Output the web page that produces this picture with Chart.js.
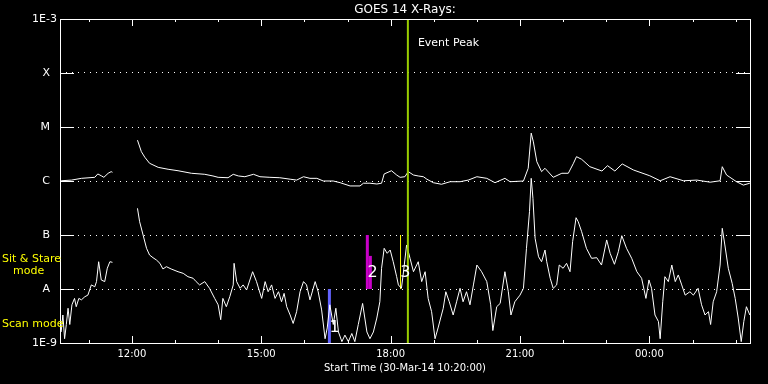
<!DOCTYPE html>
<html><head><meta charset="utf-8">
<style>html,body{margin:0;padding:0;background:#000;overflow:hidden}canvas{display:block}</style>
<script src="https://cdn.jsdelivr.net/npm/chart.js@4.4.1/dist/chart.umd.min.js"></script>
</head><body>
<canvas id="c" width="768" height="384"></canvas>
<script>
// ---- text ----
const chartTitle = 'GOES 14 X-Rays:';
const xAxisTitle = 'Start Time (30-Mar-14 10:20:00)';
const eventLabel = 'Event Peak';
const sitStareLabel = ['Sit & Stare', 'mode'];
const scanLabel = 'Scan mode';

// ---- axes (time in hours from midnight 30-Mar-14, >24 = next day) ----
const startHour = 10 + 20 / 60;
const endHour = startHour + 16;
const hourTicks = [11,12,13,14,15,16,17,18,19,20,21,22,23,24,25,26];
const levelValues = [1e-9, 1e-8, 1e-7, 1e-6, 1e-5, 1e-4, 1e-3];
const levelLabels = ['1E-9', 'A', 'B', 'C', 'M', 'X', '1E-3'];

// ---- 1-8 A channel (upper curve) ----
const longTimes = [
 10.36,10.60,10.83,11.14,11.21,11.29,11.35,11.45,11.52,11.55,
 11.80,12.13,12.22,12.30,12.41,12.61,12.84,13.07,13.38,13.69,
 13.88,14.00,14.23,14.35,14.47,14.62,14.82,14.97,15.20,15.43,
 15.67,15.82,15.98,16.13,16.29,16.44,16.67,16.83,17.06,17.29,
 17.37,17.52,17.68,17.79,17.85,18.02,18.14,18.22,18.33,18.41,
 18.53,18.64,18.76,18.84,18.99,19.18,19.38,19.61,19.80,20.00,
 20.23,20.42,20.65,20.77,21.08,21.19,21.26,21.31,21.39,21.50,
 21.58,21.77,21.97,22.12,22.24,22.31,22.43,22.62,22.90,23.03,
 23.20,23.37,23.63,24.01,24.25,24.48,24.79,25.10,25.41,25.64,
 25.69,25.79,26.02,26.18,26.33];
const longFlux = [
 1.01e-6,1.04e-6,1.12e-6,1.17e-6,1.35e-6,1.25e-6,1.17e-6,1.39e-6,1.49e-6,1.45e-6,
 null,5.7e-6,3.49e-6,2.75e-6,2.13e-6,1.79e-6,1.65e-6,1.55e-6,1.39e-6,1.33e-6,
 1.24e-6,1.17e-6,1.15e-6,1.33e-6,1.24e-6,1.20e-6,1.33e-6,1.20e-6,1.17e-6,1.15e-6,
 1.08e-6,1.04e-6,1.20e-6,1.12e-6,1.12e-6,1.0e-6,1.0e-6,9.3e-7,8.1e-7,8.1e-7,
 9.1e-7,9.1e-7,8.8e-7,9.1e-7,1.35e-6,1.55e-6,1.29e-6,1.17e-6,1.20e-6,1.49e-6,
 1.29e-6,1.24e-6,1.20e-6,1.08e-6,9.3e-7,8.7e-7,9.7e-7,9.7e-7,1.04e-6,1.20e-6,
 1.12e-6,9.3e-7,1.12e-6,9.7e-7,1.0e-6,1.72e-6,7.7e-6,5.3e-6,2.28e-6,1.49e-6,
 1.72e-6,1.17e-6,1.39e-6,1.39e-6,2.13e-6,2.82e-6,2.52e-6,1.84e-6,1.53e-6,1.92e-6,
 1.53e-6,2.07e-6,1.60e-6,1.25e-6,1.01e-6,1.20e-6,1.01e-6,1.04e-6,9.5e-7,1.01e-6,
 1.84e-6,1.29e-6,9.7e-7,8.4e-7,9.1e-7];

// ---- 0.5-4 A channel (lower curve) ----
const shortTimes = [
 10.36,10.40,10.44,10.48,10.52,10.56,10.61,10.67,10.71,10.77,
 10.83,10.91,10.98,11.06,11.14,11.18,11.23,11.29,11.37,11.43,
 11.49,11.55,11.80,12.13,12.18,12.26,12.34,12.41,12.49,12.57,
 12.65,12.72,12.80,12.91,13.07,13.19,13.30,13.42,13.49,13.57,
 13.69,13.80,13.92,14.00,14.06,14.11,14.19,14.27,14.35,14.37,
 14.43,14.51,14.58,14.66,14.80,14.89,15.01,15.09,15.16,15.24,
 15.32,15.40,15.47,15.53,15.59,15.67,15.74,15.82,15.90,15.98,
 16.05,16.13,16.25,16.32,16.40,16.48,16.53,16.59,16.67,16.73,
 16.79,16.87,16.94,17.02,17.10,17.17,17.25,17.35,17.45,17.52,
 17.60,17.68,17.75,17.79,17.85,17.92,17.99,18.06,18.14,18.18,
 18.25,18.29,18.37,18.45,18.53,18.64,18.72,18.80,18.87,18.95,
 19.03,19.10,19.16,19.22,19.28,19.36,19.45,19.53,19.61,19.68,
 19.76,19.84,19.92,20.00,20.11,20.23,20.32,20.37,20.46,20.54,
 20.65,20.73,20.79,20.88,21.00,21.08,21.15,21.22,21.26,21.30,
 21.35,21.43,21.50,21.58,21.62,21.70,21.77,21.85,21.91,22.00,
 22.08,22.16,22.22,22.30,22.35,22.43,22.54,22.66,22.78,22.89,
 23.01,23.09,23.19,23.28,23.36,23.47,23.59,23.71,23.82,23.92,
 23.99,24.05,24.13,24.21,24.25,24.31,24.36,24.44,24.52,24.60,
 24.67,24.75,24.83,24.94,25.02,25.13,25.21,25.29,25.37,25.42,
 25.48,25.56,25.64,25.69,25.75,25.83,25.92,25.99,26.06,26.13,
 26.19,26.25,26.33];
const shortFlux = [
 1.6e-9,3.3e-9,1.2e-9,2.2e-9,4.4e-9,2.2e-9,5.1e-9,6.7e-9,4.7e-9,6.7e-9,
 6.3e-9,7.2e-9,7.7e-9,1.19e-8,1.1e-8,1.37e-8,3.2e-8,1.47e-8,1.37e-8,2.42e-8,
 3.2e-8,3.12e-8,null,3.12e-7,1.76e-7,1.0e-7,5.67e-8,4.26e-8,3.8e-8,3.44e-8,
 2.99e-8,2.35e-8,2.59e-8,2.35e-8,2.09e-8,1.95e-8,1.69e-8,1.58e-8,1.37e-8,1.19e-8,
 1.37e-8,1.03e-8,6.7e-9,5.1e-9,2.7e-9,6.7e-9,4.7e-9,7.2e-9,1.19e-8,2.99e-8,
 1.37e-8,1.03e-8,1.19e-8,9.6e-9,2.09e-8,1.37e-8,6.7e-9,1.37e-8,8.9e-9,1.19e-8,
 6.7e-9,8.9e-9,5.8e-9,8.3e-9,4.7e-9,3.3e-9,2.3e-9,3.8e-9,8.9e-9,1.37e-8,
 1.19e-8,6.3e-9,1.37e-8,8.9e-9,4.1e-9,1.2e-9,1.9e-9,5.1e-9,2.2e-9,4.4e-9,
 1.6e-9,1.06e-9,1.4e-9,1.06e-9,1.5e-9,1.06e-9,2.2e-9,5.4e-9,1.6e-9,1.2e-9,
 1.6e-9,2.9e-9,5.8e-9,2.42e-8,5.67e-8,4.58e-8,5.27e-8,3.2e-8,1.69e-8,1.19e-8,
 1.03e-8,1.82e-8,6.53e-8,3.7e-8,2.09e-8,3.2e-8,1.37e-8,2.09e-8,6.7e-9,3.8e-9,
 1.2e-9,1.9e-9,2.9e-9,4.4e-9,8.9e-9,5.8e-9,3.3e-9,5.8e-9,1.03e-8,5.8e-9,
 8.9e-9,5.1e-9,1.19e-8,2.78e-8,2.09e-8,1.37e-8,5.1e-9,1.7e-9,4.7e-9,5.4e-9,
 2.09e-8,8.9e-9,3.3e-9,5.8e-9,7.7e-9,1.03e-8,5.67e-8,2.7e-7,1.12e-6,4.78e-7,
 8.69e-8,3.96e-8,3.2e-8,5.27e-8,3.2e-8,1.58e-8,1.03e-8,1.19e-8,2.78e-8,2.42e-8,
 2.99e-8,2.09e-8,7.52e-8,2.09e-7,1.76e-7,1.15e-7,5.67e-8,3.7e-8,3.8e-8,2.78e-8,
 8.1e-8,4.58e-8,2.87e-8,4.9e-8,9.7e-8,5.67e-8,3.7e-8,2.09e-8,1.58e-8,6.7e-9,
 1.47e-8,1.03e-8,3.3e-9,2.5e-9,1.2e-9,5.8e-9,1.69e-8,1.37e-8,2.78e-8,1.37e-8,
 1.82e-8,1.19e-8,7.7e-9,8.9e-9,7.7e-9,1.03e-8,5.1e-9,3.3e-9,3.8e-9,2.2e-9,
 5.8e-9,8.9e-9,2.78e-8,1.33e-7,6.53e-8,2.42e-8,1.27e-8,6.7e-9,2.9e-9,1.06e-9,
 2.5e-9,4.7e-9,3.3e-9];

// ---- observation markers ----
const obsTimes = [16.58, 17.46, 17.53, 18.23];
const obsLow   = [1e-9, 1e-8, 1e-8, 1e-8];
const obsHigh  = [1e-8, 1e-7, 4.1e-8, 1e-7];
const obsNumbers = ['1', '2', '2', '3'];
const obsLabelTimes = [16.70, 17.58, 17.58, 18.34];
const obsLabelFlux  = [1.9e-9, 2.0e-8, 2.0e-8, 2.0e-8];
const eventPeakTime = 18.40;

// ---- styles ----
const FONT = 'DejaVu Sans';
const obsColors = ['#6464ff', '#c800c8', '#c800c8', '#ffff00'];
const obsWidths = [3, 3, 3, 1];

const zip = (ts, vs) => ts.map((t, i) => ({x: t, y: vs[i]}));

const datasets = [];
datasets.push({data: [{x: eventPeakTime, y: levelValues[0]}, {x: eventPeakTime, y: levelValues[6]}],
  borderColor: '#99cc00', borderWidth: 2, pointRadius: 0});
datasets.push({data: zip(longTimes, longFlux), borderColor: '#ffffff', borderWidth: 1, pointRadius: 0, spanGaps: false});
datasets.push({data: zip(shortTimes, shortFlux), borderColor: '#ffffff', borderWidth: 1, pointRadius: 0, spanGaps: false});
obsTimes.forEach((t, i) => datasets.push({
  data: [{x: t, y: obsLow[i]}, {x: t, y: obsHigh[i]}],
  borderColor: obsColors[i], borderWidth: obsWidths[i], pointRadius: 0, borderCapStyle: 'butt'}));

const decor = {
  id: 'decor',
  beforeDraw(chart) {
    const ctx = chart.ctx;
    ctx.save(); ctx.fillStyle = '#000'; ctx.fillRect(0, 0, chart.width, chart.height); ctx.restore();
  },
  afterDatasetsDraw(chart) {
    const {ctx, chartArea: {left, right, top, bottom}, scales: {x, y}} = chart;
    ctx.save();
    ctx.strokeStyle = '#fff'; ctx.lineWidth = 1;
    ctx.beginPath();
    // level ticks (inward, both sides)
    levelValues.slice(1, 6).forEach(v => {
      const py = Math.round(y.getPixelForValue(v)) + 0.5;
      ctx.moveTo(left, py); ctx.lineTo(left + 14, py);
      ctx.moveTo(right - 14, py); ctx.lineTo(right, py);
    });
    // hour ticks (inward, top and bottom)
    hourTicks.forEach(h => {
      const px = Math.round(x.getPixelForValue(h)) + 0.5;
      const len = h % 3 === 0 ? 7 : 3;
      ctx.moveTo(px, top); ctx.lineTo(px, top + len);
      ctx.moveTo(px, bottom); ctx.lineTo(px, bottom - len);
    });
    ctx.stroke();
    ctx.strokeRect(left + 0.5, top + 0.5, right - left, bottom - top);

    // numbered observation labels
    ctx.fillStyle = '#fff';
    ctx.font = '16px "' + FONT + '"';
    ctx.textAlign = 'center'; ctx.textBaseline = 'middle';
    const done = {};
    obsNumbers.forEach((n, i) => {
      if (done[n]) return; done[n] = true;
      ctx.fillText(n, x.getPixelForValue(obsLabelTimes[i]), y.getPixelForValue(obsLabelFlux[i]));
    });
    // event peak label
    ctx.font = '11px "' + FONT + '"';
    ctx.textAlign = 'left';
    ctx.fillText(eventLabel, x.getPixelForValue(eventPeakTime) + 10, top + 24);
    ctx.restore();
  },
  afterDraw(chart) {
    const {ctx, scales: {y}} = chart;
    ctx.save();
    ctx.fillStyle = '#ffff00';
    ctx.font = '11px "' + FONT + '"';
    ctx.textAlign = 'left'; ctx.textBaseline = 'middle';
    const pA = y.getPixelForValue(levelValues[1]);
    const p9 = y.getPixelForValue(levelValues[0]);
    ctx.fillText(sitStareLabel[0], 2, pA - 30);
    ctx.fillText(sitStareLabel[1], 13, pA - 18);
    ctx.fillText(scanLabel, 2, p9 - 19);
    ctx.restore();
  }
};

new Chart(document.getElementById('c'), {
  type: 'line',
  data: {datasets},
  options: {
    responsive: false,
    animation: false,
    events: [],
    layout: {padding: {left: 0, right: 18, top: 0, bottom: 0}},
    plugins: {
      legend: {display: false},
      tooltip: {enabled: false},
      title: {display: true, text: chartTitle, color: '#fff', fullSize: false,
        font: {family: FONT, size: 12, weight: 'normal'}, padding: {top: 2.3, bottom: 2.3}}
    },
    scales: {
      x: {
        type: 'linear', min: startHour, max: endHour,
        afterBuildTicks: s => { s.ticks = hourTicks.map(v => ({value: v})); },
        afterFit: s => { s.height = 41; },
        grid: {display: false, drawTicks: false},
        border: {display: false},
        ticks: {color: '#fff', autoSkip: false, maxRotation: 0, padding: 5,
          font: {family: FONT, size: 10},
          callback: v => v % 3 === 0 ? String(v % 24).padStart(2, '0') + ':00' : ''},
        title: {display: true, text: xAxisTitle, color: '#fff',
          font: {family: FONT, size: 10}, padding: {top: 0, bottom: 10}}
      },
      y: {
        type: 'logarithmic', min: levelValues[0], max: levelValues[6],
        afterBuildTicks: s => { s.ticks = levelValues.map(v => ({value: v})); },
        afterFit: s => { s.width = 60; },
        grid: {display: true, color: '#fff', lineWidth: 1, drawTicks: false},
        border: {display: false, dash: [1, 5]},
        ticks: {color: '#fff', padding: 3, font: {family: FONT, size: 11},
          callback: v => { const l = levelLabels[levelValues.indexOf(v)]; return l.length === 1 ? l + '  ' : l; }}
      }
    }
  },
  plugins: [decor]
});
</script>
</body></html>
